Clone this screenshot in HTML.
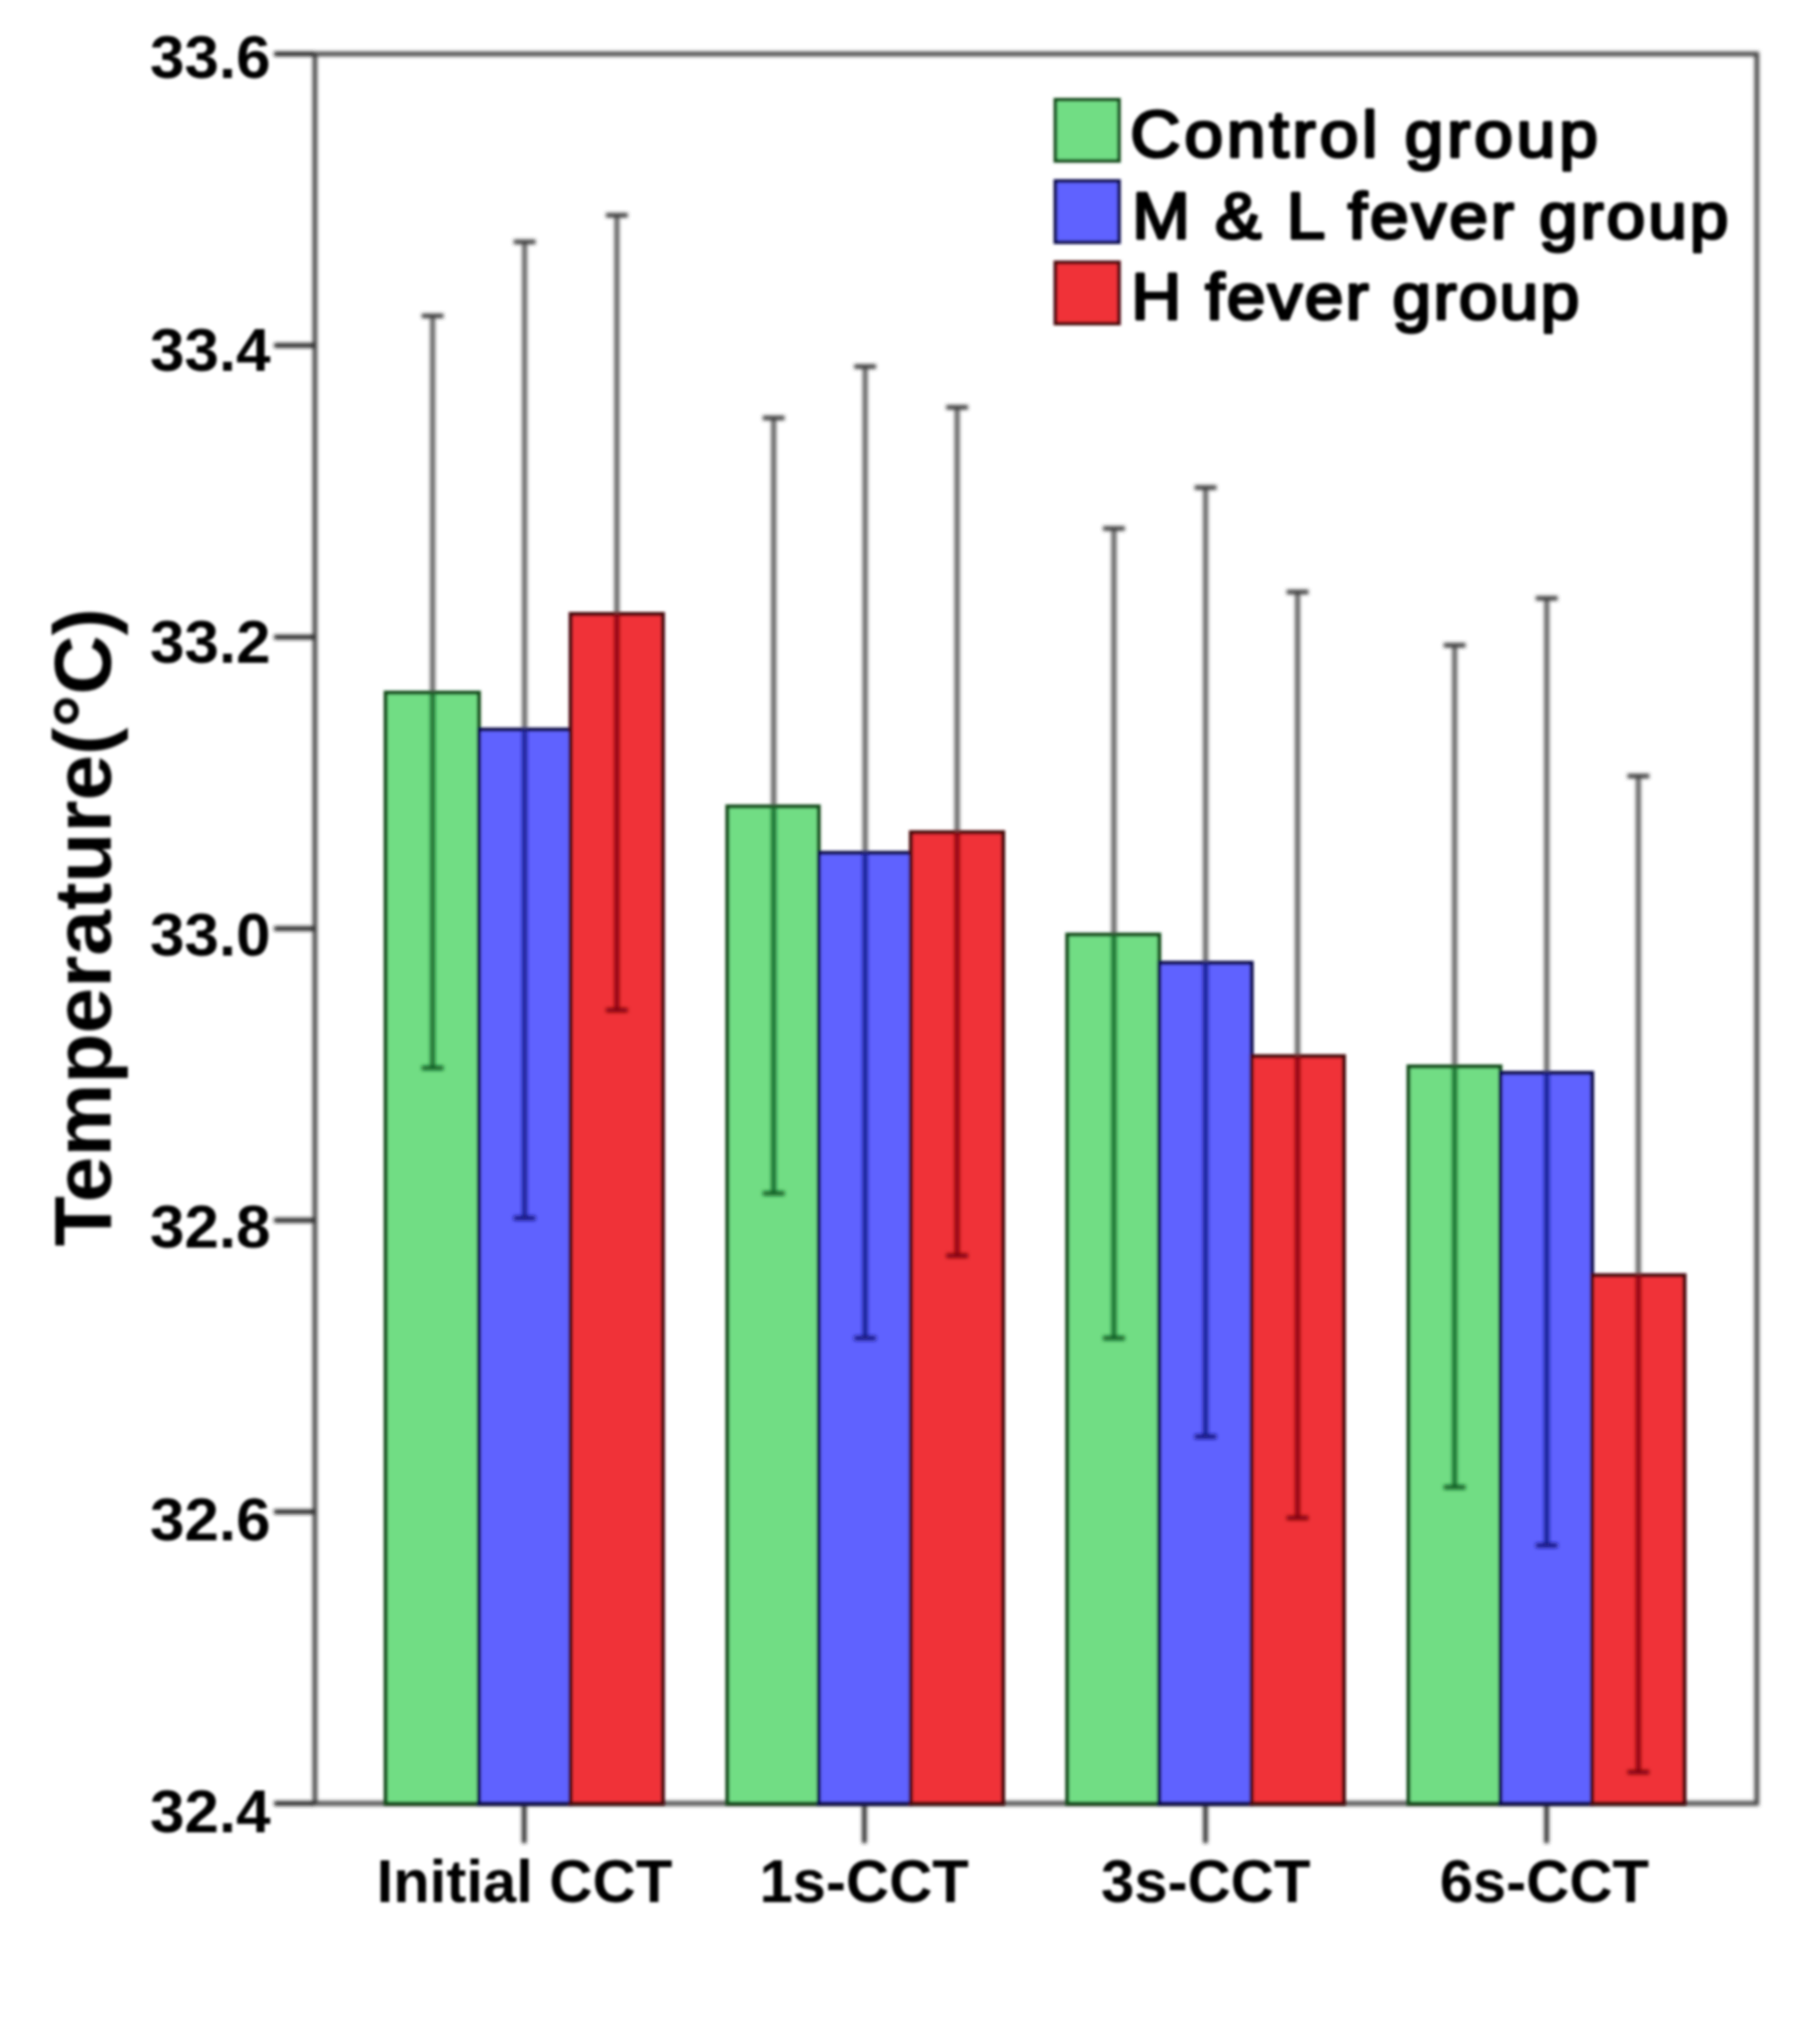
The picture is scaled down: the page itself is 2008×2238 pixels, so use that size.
<!DOCTYPE html>
<html lang="en"><head><meta charset="utf-8"><title>Temperature chart</title>
<style>
html,body{margin:0;padding:0;background:#fff;}
body{width:2008px;height:2238px;overflow:hidden;}
svg{display:block;}
text{font-family:"Liberation Sans",sans-serif;fill:#000;}
.b{font-weight:bold;}
</style></head><body>
<svg width="2008" height="2238" viewBox="0 0 2008 2238">
<defs>
<filter id="f2" filterUnits="userSpaceOnUse" x="0" y="0" width="2008" height="2238"><feGaussianBlur stdDeviation="2"/></filter>
<filter id="f1" filterUnits="userSpaceOnUse" x="0" y="0" width="2008" height="2238"><feGaussianBlur stdDeviation="1.5"/></filter>
<filter id="ft" filterUnits="userSpaceOnUse" x="0" y="0" width="2008" height="2238"><feGaussianBlur stdDeviation="1.5"/></filter>
</defs>
<rect width="2008" height="2238" fill="#fff"/>
<g filter="url(#f2)">
<rect x="347.4" y="59.5" width="1590.9" height="1929.7" fill="none" stroke="#444444" stroke-width="5"/>
<line x1="302.5" y1="59.5" x2="347.4" y2="59.5" stroke="#1d1d1d" stroke-width="5"/>
<line x1="302.5" y1="381.1" x2="347.4" y2="381.1" stroke="#1d1d1d" stroke-width="5"/>
<line x1="302.5" y1="702.7" x2="347.4" y2="702.7" stroke="#1d1d1d" stroke-width="5"/>
<line x1="302.5" y1="1024.3" x2="347.4" y2="1024.3" stroke="#1d1d1d" stroke-width="5"/>
<line x1="302.5" y1="1346.0" x2="347.4" y2="1346.0" stroke="#1d1d1d" stroke-width="5"/>
<line x1="302.5" y1="1667.6" x2="347.4" y2="1667.6" stroke="#1d1d1d" stroke-width="5"/>
<line x1="302.5" y1="1989.2" x2="347.4" y2="1989.2" stroke="#1d1d1d" stroke-width="5"/>
<line x1="578.3" y1="1989.2" x2="578.3" y2="2033" stroke="#2c2c2c" stroke-width="5"/>
<line x1="953.7" y1="1989.2" x2="953.7" y2="2033" stroke="#2c2c2c" stroke-width="5"/>
<line x1="1330" y1="1989.2" x2="1330" y2="2033" stroke="#2c2c2c" stroke-width="5"/>
<line x1="1706.3" y1="1989.2" x2="1706.3" y2="2033" stroke="#2c2c2c" stroke-width="5"/>
</g>
<g filter="url(#f1)">
<rect x="425.5" y="764.0" width="102.9" height="1225.2" fill="#71dd84" stroke="#124f1f" stroke-width="4.4"/>
<rect x="528.4" y="804.7" width="101.2" height="1184.5" fill="#5e62ff" stroke="#0e0e50" stroke-width="4.4"/>
<rect x="629.6" y="677.2" width="101.8" height="1312.0" fill="#f03038" stroke="#4c080e" stroke-width="4.4"/>
<rect x="802.5" y="889.5" width="100.8" height="1099.7" fill="#71dd84" stroke="#124f1f" stroke-width="4.4"/>
<rect x="903.3" y="940.7" width="101.7" height="1048.5" fill="#5e62ff" stroke="#0e0e50" stroke-width="4.4"/>
<rect x="1005.0" y="918.0" width="101.8" height="1071.2" fill="#f03038" stroke="#4c080e" stroke-width="4.4"/>
<rect x="1177.5" y="1030.9" width="101.5" height="958.3" fill="#71dd84" stroke="#124f1f" stroke-width="4.4"/>
<rect x="1279.0" y="1062.0" width="102.0" height="927.2" fill="#5e62ff" stroke="#0e0e50" stroke-width="4.4"/>
<rect x="1381.0" y="1165.0" width="101.8" height="824.2" fill="#f03038" stroke="#4c080e" stroke-width="4.4"/>
<rect x="1554.0" y="1176.3" width="101.4" height="812.9" fill="#71dd84" stroke="#124f1f" stroke-width="4.4"/>
<rect x="1655.4" y="1183.4" width="101.2" height="805.8" fill="#5e62ff" stroke="#0e0e50" stroke-width="4.4"/>
<rect x="1756.6" y="1406.6" width="101.9" height="582.6" fill="#f03038" stroke="#4c080e" stroke-width="4.4"/>
</g><g filter="url(#f2)">
<path d="M477.3 348.4V762.0" stroke="#5e5e5e" stroke-width="5.4" fill="none"/>
<path d="M465.3 348.4h24" stroke="#363636" stroke-width="4.8" fill="none"/>
<path d="M477.3 767.0V1178.0" stroke="#15682b" stroke-width="5.2" fill="none"/>
<path d="M477.3 762.0v5" stroke="#0e5a20" stroke-width="5.2" fill="none"/>
<path d="M465.3 1178.0h24" stroke="#0e5a20" stroke-width="4.8" fill="none"/>
<path d="M578.8 266.8V802.7" stroke="#5e5e5e" stroke-width="5.4" fill="none"/>
<path d="M566.8 266.8h24" stroke="#363636" stroke-width="4.8" fill="none"/>
<path d="M578.8 807.7V1343.6" stroke="#161a8c" stroke-width="5.2" fill="none"/>
<path d="M578.8 802.7v5" stroke="#12127c" stroke-width="5.2" fill="none"/>
<path d="M566.8 1343.6h24" stroke="#12127c" stroke-width="4.8" fill="none"/>
<path d="M680.6 237.4V675.2" stroke="#5e5e5e" stroke-width="5.4" fill="none"/>
<path d="M668.6 237.4h24" stroke="#363636" stroke-width="4.8" fill="none"/>
<path d="M680.6 680.2V1114.2" stroke="#88000a" stroke-width="5.2" fill="none"/>
<path d="M680.6 675.2v5" stroke="#7c0008" stroke-width="5.2" fill="none"/>
<path d="M668.6 1114.2h24" stroke="#7c0008" stroke-width="4.8" fill="none"/>
<path d="M853.6 461.0V887.5" stroke="#5e5e5e" stroke-width="5.4" fill="none"/>
<path d="M841.6 461.0h24" stroke="#363636" stroke-width="4.8" fill="none"/>
<path d="M853.6 892.5V1316.3" stroke="#15682b" stroke-width="5.2" fill="none"/>
<path d="M853.6 887.5v5" stroke="#0e5a20" stroke-width="5.2" fill="none"/>
<path d="M841.6 1316.3h24" stroke="#0e5a20" stroke-width="4.8" fill="none"/>
<path d="M954.5 404.3V938.7" stroke="#5e5e5e" stroke-width="5.4" fill="none"/>
<path d="M942.5 404.3h24" stroke="#363636" stroke-width="4.8" fill="none"/>
<path d="M954.5 943.7V1476.0" stroke="#161a8c" stroke-width="5.2" fill="none"/>
<path d="M954.5 938.7v5" stroke="#12127c" stroke-width="5.2" fill="none"/>
<path d="M942.5 1476.0h24" stroke="#12127c" stroke-width="4.8" fill="none"/>
<path d="M1056.0 449.3V916.0" stroke="#5e5e5e" stroke-width="5.4" fill="none"/>
<path d="M1044.0 449.3h24" stroke="#363636" stroke-width="4.8" fill="none"/>
<path d="M1056.0 921.0V1385.0" stroke="#88000a" stroke-width="5.2" fill="none"/>
<path d="M1056.0 916.0v5" stroke="#7c0008" stroke-width="5.2" fill="none"/>
<path d="M1044.0 1385.0h24" stroke="#7c0008" stroke-width="4.8" fill="none"/>
<path d="M1229.0 582.9V1028.9" stroke="#5e5e5e" stroke-width="5.4" fill="none"/>
<path d="M1217.0 582.9h24" stroke="#363636" stroke-width="4.8" fill="none"/>
<path d="M1229.0 1033.9V1476.0" stroke="#15682b" stroke-width="5.2" fill="none"/>
<path d="M1229.0 1028.9v5" stroke="#0e5a20" stroke-width="5.2" fill="none"/>
<path d="M1217.0 1476.0h24" stroke="#0e5a20" stroke-width="4.8" fill="none"/>
<path d="M1330.1 537.8V1060.0" stroke="#5e5e5e" stroke-width="5.4" fill="none"/>
<path d="M1318.1 537.8h24" stroke="#363636" stroke-width="4.8" fill="none"/>
<path d="M1330.1 1065.0V1584.6" stroke="#161a8c" stroke-width="5.2" fill="none"/>
<path d="M1330.1 1060.0v5" stroke="#12127c" stroke-width="5.2" fill="none"/>
<path d="M1318.1 1584.6h24" stroke="#12127c" stroke-width="4.8" fill="none"/>
<path d="M1431.6 653.0V1163.0" stroke="#5e5e5e" stroke-width="5.4" fill="none"/>
<path d="M1419.6 653.0h24" stroke="#363636" stroke-width="4.8" fill="none"/>
<path d="M1431.6 1168.0V1674.3" stroke="#88000a" stroke-width="5.2" fill="none"/>
<path d="M1431.6 1163.0v5" stroke="#7c0008" stroke-width="5.2" fill="none"/>
<path d="M1419.6 1674.3h24" stroke="#7c0008" stroke-width="4.8" fill="none"/>
<path d="M1604.9 711.7V1174.3" stroke="#5e5e5e" stroke-width="5.4" fill="none"/>
<path d="M1592.9 711.7h24" stroke="#363636" stroke-width="4.8" fill="none"/>
<path d="M1604.9 1179.3V1640.4" stroke="#15682b" stroke-width="5.2" fill="none"/>
<path d="M1604.9 1174.3v5" stroke="#0e5a20" stroke-width="5.2" fill="none"/>
<path d="M1592.9 1640.4h24" stroke="#0e5a20" stroke-width="4.8" fill="none"/>
<path d="M1706.5 659.9V1181.4" stroke="#5e5e5e" stroke-width="5.4" fill="none"/>
<path d="M1694.5 659.9h24" stroke="#363636" stroke-width="4.8" fill="none"/>
<path d="M1706.5 1186.4V1704.6" stroke="#161a8c" stroke-width="5.2" fill="none"/>
<path d="M1706.5 1181.4v5" stroke="#12127c" stroke-width="5.2" fill="none"/>
<path d="M1694.5 1704.6h24" stroke="#12127c" stroke-width="4.8" fill="none"/>
<path d="M1807.6 856.0V1404.6" stroke="#5e5e5e" stroke-width="5.4" fill="none"/>
<path d="M1795.6 856.0h24" stroke="#363636" stroke-width="4.8" fill="none"/>
<path d="M1807.6 1409.6V1954.7" stroke="#88000a" stroke-width="5.2" fill="none"/>
<path d="M1807.6 1404.6v5" stroke="#7c0008" stroke-width="5.2" fill="none"/>
<path d="M1795.6 1954.7h24" stroke="#7c0008" stroke-width="4.8" fill="none"/>
</g><g filter="url(#f1)">
<rect x="1164.4" y="110.0" width="70.2" height="67.5" fill="#71dd84" stroke="#124f1f" stroke-width="4"/>
<rect x="1164.4" y="199.7" width="70.2" height="67.5" fill="#5e62ff" stroke="#0e0e50" stroke-width="4"/>
<rect x="1164.4" y="289.4" width="70.2" height="67.5" fill="#f03038" stroke="#4c080e" stroke-width="4"/>
</g>
<g filter="url(#ft)">
<text transform="translate(1247 173) scale(1.06 1)" x="0" y="0" font-size="72.5" textLength="486.8" lengthAdjust="spacing" stroke="#000" stroke-width="3.1" stroke-linejoin="round">Control group</text>
<text transform="translate(1249 263) scale(1.06 1)" x="0" y="0" font-size="72.5" textLength="620.8" lengthAdjust="spacing" stroke="#000" stroke-width="3.1" stroke-linejoin="round">M &amp; L fever group</text>
<text transform="translate(1248 352) scale(1.06 1)" x="0" y="0" font-size="72.5" textLength="466.5" lengthAdjust="spacing" stroke="#000" stroke-width="3.1" stroke-linejoin="round">H fever group</text>
<text class="b" x="165.5" y="86.0" font-size="67" textLength="133" lengthAdjust="spacingAndGlyphs">33.6</text>
<text class="b" x="165.5" y="408.5" font-size="67" textLength="133" lengthAdjust="spacingAndGlyphs">33.4</text>
<text class="b" x="165.5" y="731.1" font-size="67" textLength="133" lengthAdjust="spacingAndGlyphs">33.2</text>
<text class="b" x="165.5" y="1053.6" font-size="67" textLength="133" lengthAdjust="spacingAndGlyphs">33.0</text>
<text class="b" x="165.5" y="1376.1" font-size="67" textLength="133" lengthAdjust="spacingAndGlyphs">32.8</text>
<text class="b" x="165.5" y="1698.7" font-size="67" textLength="133" lengthAdjust="spacingAndGlyphs">32.6</text>
<text class="b" x="165.5" y="2021.2" font-size="67" textLength="133" lengthAdjust="spacingAndGlyphs">32.4</text>
<text class="b" x="578.6" y="2098" font-size="66" text-anchor="middle">Initial CCT</text>
<text class="b" x="953.4" y="2098" font-size="66" text-anchor="middle">1s-CCT</text>
<text class="b" x="1330.3" y="2098" font-size="66" text-anchor="middle">3s-CCT</text>
<text class="b" x="1703.9" y="2098" font-size="66" text-anchor="middle">6s-CCT</text>
<text class="b" transform="translate(122 1022.7) rotate(-90)" font-size="89" text-anchor="middle" textLength="704" lengthAdjust="spacingAndGlyphs">Temperature(°C)</text>
</g></svg></body></html>
